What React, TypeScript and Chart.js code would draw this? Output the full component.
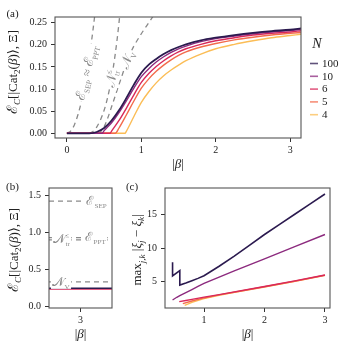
import React, { useEffect, useRef } from 'react';
import { Chart, registerables } from 'chart.js';

Chart.register(...registerables);

const SERIF = "'Liberation Serif', 'DejaVu Serif', serif";
const GRAY = '#8a8a8a';
const INK = '#222';

// ---------------- Panel (a) data ----------------
const legendN = ['100', '10', '6', '5', '4'];
const curveColors = ['#2b1a4f', '#8c2a7e', '#d8285a', '#f36b4c', '#fbbd56'];
const curveWidths = [1.8, 1.4, 1.4, 1.4, 1.4];

const betaA100 = [0, 0.3, 0.4, 0.5, 0.6, 0.7, 0.8, 0.9, 1.0, 1.1, 1.2, 1.3, 1.4, 1.5, 1.6, 1.8, 2.0, 2.25, 2.5, 2.75, 3.0, 3.15];
const ecA100 = [0, 0, 0.003, 0.012, 0.029, 0.052, 0.08, 0.11, 0.137, 0.155, 0.168, 0.179, 0.188, 0.195, 0.201, 0.21, 0.216, 0.222, 0.227, 0.231, 0.234, 0.237];
const betaA10 = [0, 0.47, 0.5, 0.6, 0.7, 0.8, 0.9, 1.0, 1.1, 1.2, 1.3, 1.4, 1.5, 1.6, 1.8, 2.0, 2.25, 2.5, 2.75, 3.0, 3.15];
const ecA10 = [0, 0, 0.006, 0.024, 0.047, 0.074, 0.102, 0.128, 0.146, 0.161, 0.173, 0.183, 0.191, 0.197, 0.207, 0.214, 0.22, 0.225, 0.229, 0.232, 0.235];
const betaA6 = [0, 0.58, 0.6, 0.7, 0.8, 0.9, 1.0, 1.1, 1.2, 1.3, 1.4, 1.5, 1.6, 1.8, 2.0, 2.25, 2.5, 2.75, 3.0, 3.15];
const ecA6 = [0, 0, 0.005, 0.029, 0.057, 0.087, 0.115, 0.135, 0.151, 0.164, 0.175, 0.184, 0.191, 0.201, 0.209, 0.216, 0.222, 0.226, 0.229, 0.232];
const betaA5 = [0, 0.65, 0.7, 0.8, 0.9, 1.0, 1.1, 1.2, 1.3, 1.4, 1.5, 1.6, 1.8, 2.0, 2.25, 2.5, 2.75, 3.0, 3.15];
const ecA5 = [0, 0, 0.012, 0.042, 0.073, 0.102, 0.123, 0.14, 0.154, 0.166, 0.176, 0.184, 0.195, 0.203, 0.211, 0.217, 0.222, 0.226, 0.228];
const betaA4 = [0, 0.78, 0.8, 0.9, 1.0, 1.1, 1.2, 1.3, 1.4, 1.5, 1.6, 1.8, 2.0, 2.25, 2.5, 2.75, 3.0, 3.15];
const ecA4 = [0, 0, 0.005, 0.038, 0.07, 0.094, 0.114, 0.13, 0.143, 0.154, 0.164, 0.179, 0.191, 0.201, 0.209, 0.216, 0.221, 0.224];

const betaSep = [0, 0.05, 0.1, 0.15, 0.2, 0.25, 0.3, 0.35, 0.38];
const ecSep = [0, 0.005, 0.019, 0.043, 0.076, 0.119, 0.171, 0.233, 0.275];
const betaNtr = [0.3, 0.35, 0.4, 0.45, 0.5, 0.55, 0.6, 0.65, 0.7, 0.72];
const ecNtr = [0, 0.004, 0.014, 0.03, 0.052, 0.083, 0.125, 0.18, 0.25, 0.285];
const betaNv = [0.42, 0.45, 0.5, 0.55, 0.6, 0.65, 0.7, 0.75, 0.8, 0.85, 0.9, 1.0, 1.1, 1.18];
const ecNv = [0, 0.003, 0.015, 0.035, 0.06, 0.085, 0.11, 0.135, 0.16, 0.18, 0.197, 0.225, 0.25, 0.27];

const xTicksA = [0, 1, 2, 3];
const yTicksA = [0, 0.05, 0.1, 0.15, 0.2, 0.25];

// ---------------- Panel (b) data ----------------
const betaB = [2.9, 3.1];
const sepB = 1.42;
const pptB = 0.93;
const ntrB = 0.9;
const nvB = 0.333;
const ec100B = 0.248;
const ec6B = 0.238;
const xTicksB = [3];
const yTicksB = [0, 0.5, 1.0, 1.5];

// ---------------- Panel (c) data ----------------
const betaC100 = [0.48, 0.48, 0.6, 0.6, 0.7, 0.8, 0.9, 1.0, 1.25, 1.5, 1.75, 2.0, 2.25, 2.5, 2.75, 3.0];
const gapC100 = [7.9, 5.85, 6.65, 4.5, 4.8, 5.15, 5.5, 5.9, 7.3, 8.8, 10.4, 12.0, 13.5, 15.0, 16.5, 18.0];
const betaC10 = [0.48, 0.55, 0.6, 0.7, 0.8, 0.9, 1.0, 1.25, 1.5, 1.75, 2.0, 2.5, 3.0];
const gapC10 = [2.3, 2.7, 2.95, 3.4, 3.85, 4.3, 4.75, 5.7, 6.6, 7.5, 8.4, 10.2, 12.0];
const betaC6 = [0.59, 0.7, 0.8, 1.0, 1.25, 1.5, 2.0, 2.5, 3.0];
const gapC6 = [2.05, 2.22, 2.38, 2.72, 3.1, 3.5, 4.3, 5.12, 6.0];
const betaC5 = [0.65, 0.8, 1.0, 1.25, 1.5, 2.0, 2.5, 3.0];
const gapC5 = [1.75, 2.15, 2.6, 3.05, 3.45, 4.25, 5.08, 5.97];
const betaC4 = [0.68, 0.8, 1.0, 1.25, 1.5, 2.0, 2.5, 3.0];
const gapC4 = [1.5, 1.95, 2.5, 3.0, 3.42, 4.22, 5.05, 5.95];
const xTicksC = [1, 2, 3];
const yTicksC = [5, 10, 15];

// ---------------- helpers ----------------
type Seg = { t: string; s?: number; dy?: number; it?: boolean; na?: boolean };

const segFont = (seg: Seg, base: number) =>
  `${seg.it ? 'italic ' : ''}${(base * (seg.s ?? 1)).toFixed(2)}px ${SERIF}`;

function drawRich(ctx: CanvasRenderingContext2D, segs: Seg[], x: number, y: number, angle: number, base: number, color: string, bg = false) {
  ctx.save();
  ctx.translate(x, y);
  ctx.rotate(angle);
  let w = 0;
  const ws = segs.map((seg) => {
    ctx.font = segFont(seg, base);
    const m = ctx.measureText(seg.t).width;
    if (!seg.na) w += m;
    return m;
  });
  if (bg) {
    ctx.fillStyle = '#fff';
    ctx.fillRect(-w / 2 - 1.5, -base * 0.6, w + 3, base * 1.2);
  }
  ctx.fillStyle = color;
  ctx.textBaseline = 'alphabetic';
  ctx.textAlign = 'left';
  let cx = -w / 2;
  segs.forEach((seg, i) => {
    ctx.font = segFont(seg, base);
    ctx.fillText(seg.t, cx, base * 0.33 + (seg.dy ?? 0) * base);
    if (!seg.na) cx += ws[i];
  });
  ctx.restore();
}

const pts = (xs: number[], ys: number[]) => xs.map((x, i) => ({ x, y: ys[i] }));
const flat = (xs: number[], v: number) => xs.map((x) => ({ x, y: v }));

function axis(min: number, max: number, ticks: number[], fmt: (v: number) => string, size: number, isX: boolean, pad: number) {
  return {
    type: 'linear',
    min,
    max,
    afterBuildTicks: (s: any) => {
      s.ticks = ticks.map((v) => ({ value: v }));
    },
    afterFit: (s: any) => {
      if (isX) s.height = size;
      else s.width = size;
    },
    ticks: {
      callback: (v: any) => fmt(Number(v)),
      font: { family: SERIF, size: 10 },
      color: INK,
      padding: pad,
      autoSkip: false,
      maxRotation: 0,
      minRotation: 0,
    },
    grid: { display: true, drawOnChartArea: false, drawTicks: true, tickLength: 4, tickWidth: 1, tickColor: '#333' },
    border: { display: false },
  };
}

function framePlugin(extra: (chart: any, ctx: CanvasRenderingContext2D) => void) {
  return {
    id: 'frameAndText',
    afterDatasetsDraw(chart: any) {
      const ctx = chart.ctx as CanvasRenderingContext2D;
      extra(chart, ctx);
      const a = chart.chartArea;
      ctx.save();
      ctx.strokeStyle = '#555';
      ctx.lineWidth = 1.1;
      ctx.strokeRect(a.left, a.top, a.right - a.left, a.bottom - a.top);
      ctx.restore();
    },
  };
}

const yTitleAB: Seg[] = [
  { t: 'ℰ', s: 1.1 },
  { t: 'C', s: 0.7, dy: 0.25, it: true },
  { t: '[|Cat' },
  { t: '2', s: 0.7, dy: 0.25 },
  { t: '(' },
  { t: 'β', it: true },
  { t: ')⟩, Ξ]' },
];
const xTitle: Seg[] = [{ t: '|' }, { t: 'β', it: true }, { t: '|' }];
const yTitleC: Seg[] = [
  { t: 'max' },
  { t: 'j,k', s: 0.7, dy: 0.3, it: true },
  { t: ' |' },
  { t: 'ξ', it: true },
  { t: 'j', s: 0.7, dy: 0.25, it: true },
  { t: ' − ' },
  { t: 'ξ', it: true },
  { t: 'k', s: 0.7, dy: 0.25, it: true },
  { t: '|' },
];
const sepLabel: Seg[] = [{ t: 'ℰ', s: 1.1 }, { t: 'SEP', s: 0.62, dy: 0.25 }, { t: ' ≈ ' }, { t: 'ℰ', s: 1.1 }, { t: 'PPT', s: 0.62, dy: 0.25 }];
const ntrLabel: Seg[] = [{ t: '𝒩', s: 1.1 }, { t: '≤', s: 0.62, dy: -0.42, na: true }, { t: 'tr', s: 0.62, dy: 0.25 }];
const nvLabel: Seg[] = [{ t: '𝒩', s: 1.1 }, { t: 'V', s: 0.62, dy: 0.25 }];
const sepOnly: Seg[] = [{ t: 'ℰ', s: 1.1 }, { t: 'SEP', s: 0.62, dy: 0.25 }];
const pptOnly: Seg[] = [{ t: 'ℰ', s: 1.1 }, { t: 'PPT', s: 0.62, dy: 0.25 }];

const deg = Math.PI / 180;

function commonOptions(padding: any, scales: any) {
  return {
    responsive: false,
    animation: false,
    devicePixelRatio: 1,
    events: [],
    layout: { padding },
    plugins: { legend: { display: false }, tooltip: { enabled: false } },
    elements: { point: { radius: 0 } },
    scales,
  };
}

// ---------------- chart builders ----------------
function buildA(): any {
  const curves = [
    [betaA100, ecA100],
    [betaA10, ecA10],
    [betaA6, ecA6],
    [betaA5, ecA5],
    [betaA4, ecA4],
  ].map(([xs, ys], i) => ({
    data: pts(xs, ys),
    borderColor: curveColors[i],
    borderWidth: curveWidths[i],
    cubicInterpolationMode: 'monotone',
    pointRadius: 0,
    fill: false,
  }));
  const dashed = [
    [betaSep, ecSep],
    [betaNtr, ecNtr],
    [betaNv, ecNv],
  ].map(([xs, ys]) => ({
    data: pts(xs, ys),
    borderColor: GRAY,
    borderWidth: 1.3,
    borderDash: [5, 4],
    cubicInterpolationMode: 'monotone',
    pointRadius: 0,
    fill: false,
  }));
  return {
    type: 'line',
    data: { datasets: [...curves, ...dashed] },
    options: commonOptions(
      { top: 17, right: 40, left: 0, bottom: 0 },
      {
        x: axis(-0.16, 3.145, xTicksA, (v) => String(v), 38, true, 2),
        y: axis(-0.0106, 0.2628, yTicksA, (v) => v.toFixed(2), 55, false, 4),
      }
    ),
    plugins: [
      framePlugin((chart, ctx) => {
        const sx = chart.scales.x;
        const sy = chart.scales.y;
        drawRich(ctx, sepLabel, sx.getPixelForValue(0.266), sy.getPixelForValue(0.137), -76 * deg, 12.5, GRAY, true);
        drawRich(ctx, ntrLabel, sx.getPixelForValue(0.595), sy.getPixelForValue(0.123), -79 * deg, 12.5, GRAY, true);
        drawRich(ctx, nvLabel, sx.getPixelForValue(0.81), sy.getPixelForValue(0.165), -70 * deg, 12.5, GRAY, true);
        const a = chart.chartArea;
        drawRich(ctx, [{ t: '(a)' }], 12.5, 13, 0, 11, INK);
        drawRich(ctx, yTitleAB, 12.5, 72, -90 * deg, 13, INK);
        drawRich(ctx, xTitle, (a.left + a.right) / 2, 164, 0, 13, INK);
        // legend
        drawRich(ctx, [{ t: 'N', it: true }], 317, 43, 0, 14, INK);
        legendN.forEach((lab, i) => {
          const y = 63.5 + i * 12.8;
          ctx.save();
          ctx.globalAlpha = 0.75;
          ctx.strokeStyle = curveColors[i];
          ctx.lineWidth = 1.6;
          ctx.beginPath();
          ctx.moveTo(310, y);
          ctx.lineTo(318, y);
          ctx.stroke();
          ctx.restore();
          ctx.save();
          ctx.fillStyle = INK;
          ctx.font = `11px ${SERIF}`;
          ctx.textBaseline = 'middle';
          ctx.fillText(lab, 322, y + 0.5);
          ctx.restore();
        });
      }),
    ],
  };
}

function buildB(): any {
  const hline = (v: number, color: string, dashed: boolean, w: number) => ({
    data: flat(betaB, v),
    borderColor: color,
    borderWidth: w,
    borderDash: dashed ? [5, 4] : [],
    pointRadius: 0,
    fill: false,
  });
  return {
    type: 'line',
    data: {
      datasets: [
        hline(ec100B, curveColors[0], false, 1.5),
        hline(ec6B, curveColors[2], false, 1.5),
        hline(sepB, GRAY, true, 1.3),
        hline(pptB, GRAY, true, 1.3),
        hline(ntrB, GRAY, true, 1.3),
        hline(nvB, GRAY, true, 1.3),
      ],
    },
    options: commonOptions(
      { top: 9, right: 10, left: 0, bottom: 0 },
      {
        x: axis(2.9, 3.1, xTicksB, (v) => String(v), 36, true, 2),
        y: axis(-0.017, 1.596, yTicksB, (v) => v.toFixed(1), 49, false, 4),
      }
    ),
    plugins: [
      framePlugin((chart, ctx) => {
        const sx = chart.scales.x;
        const sy = chart.scales.y;
        drawRich(ctx, sepOnly, sx.getPixelForValue(3.051), sy.getPixelForValue(sepB), 0, 11.5, GRAY, true);
        drawRich(ctx, pptOnly, sx.getPixelForValue(3.048), sy.getPixelForValue(pptB), 0, 11.5, GRAY, true);
        drawRich(ctx, ntrLabel, sx.getPixelForValue(2.94), sy.getPixelForValue(ntrB + 0.01), 0, 11.5, GRAY, true);
        drawRich(ctx, nvLabel, sx.getPixelForValue(2.938), sy.getPixelForValue(nvB), 0, 11.5, GRAY, true);
        const a = chart.chartArea;
        drawRich(ctx, [{ t: '(b)' }], 12.5, 8, 0, 11, INK);
        drawRich(ctx, yTitleAB, 13.5, (a.top + a.bottom) / 2 + 2, -90 * deg, 13, INK);
        drawRich(ctx, xTitle, (a.left + a.right) / 2, 156, 0, 13, INK);
      }),
    ],
  };
}

function buildC(): any {
  const curves = [
    [betaC100, gapC100],
    [betaC10, gapC10],
    [betaC6, gapC6],
    [betaC5, gapC5],
    [betaC4, gapC4],
  ].map(([xs, ys], i) => ({
    data: pts(xs, ys),
    borderColor: curveColors[i],
    borderWidth: i === 0 ? 1.6 : 1.4,
    tension: 0,
    pointRadius: 0,
    fill: false,
  }));
  return {
    type: 'line',
    data: { datasets: curves },
    options: commonOptions(
      { top: 9, right: 11, left: 0, bottom: 0 },
      {
        x: axis(0.355, 3.083, xTicksC, (v) => String(v), 36, true, 2),
        y: axis(1.11, 18.89, yTicksC, (v) => String(v), 43, false, 4),
      }
    ),
    plugins: [
      framePlugin((chart, ctx) => {
        const a = chart.chartArea;
        drawRich(ctx, [{ t: '(c)' }], 10, 8, 0, 11, INK);
        drawRich(ctx, yTitleC, 14.5, (a.top + a.bottom) / 2 + 2, -90 * deg, 13, INK);
        drawRich(ctx, xTitle, (a.left + a.right) / 2, 156, 0, 13, INK);
      }),
    ],
  };
}

function Panel({ left, top, width, height, build }: { left: number; top: number; width: number; height: number; build: () => any }) {
  const ref = useRef<HTMLCanvasElement>(null);
  useEffect(() => {
    const chart = new Chart(ref.current as HTMLCanvasElement, build());
    return () => chart.destroy();
  }, []);
  return (
    <canvas
      ref={ref}
      width={width}
      height={height}
      style={{ position: 'absolute', left, top, width, height, display: 'block' }}
    />
  );
}

export default function App() {
  return (
    <div style={{ position: 'fixed', left: 0, top: 0, width: 341, height: 344, background: '#fff', overflow: 'hidden' }}>
      <Panel left={0} top={0} width={341} height={176} build={buildA} />
      <Panel left={0} top={178} width={122} height={166} build={buildB} />
      <Panel left={122} top={178} width={219} height={166} build={buildC} />
    </div>
  );
}
